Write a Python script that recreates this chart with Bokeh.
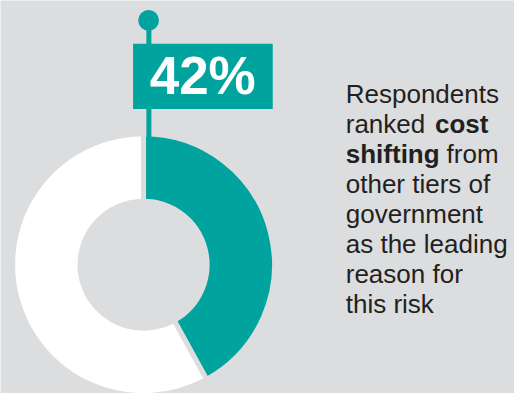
import numpy as np
from bokeh.plotting import figure
from bokeh.models import Range1d
from bokeh.core.properties import value
from bokeh.embed import file_html
from bokeh.resources import INLINE

# ---- data ----
shares = [42, 58]                      # percent: cost shifting vs. rest
share_colors = ["#00A39D", "#FFFFFF"]
highlight_label = f"{shares[0]}%"
text_lines = [
    [("Respondents", "normal")],
    [("ranked", "normal"), ("cost", "bold")],
    [("shifting", "bold"), ("from", "normal")],
    [("other tiers of", "normal")],
    [("government", "normal")],
    [("as the leading", "normal")],
    [("reason for", "normal")],
    [("this risk", "normal")],
]

BG = "#DCDDDF"
TEAL = "#00A39D"
TXT = "#231F20"
W, H = 530, 409  # reference frame; data y = H - pixel_y

p = figure(width=514, height=393, x_range=Range1d(0, W), y_range=Range1d(0, H),
           output_backend="svg", toolbar_location=None, min_border=0,
           background_fill_color=BG, border_fill_color=BG, outline_line_color=None)
p.axis.visible = False
p.grid.visible = False

# donut
cx, cy = 147.5, H - 275
fr = np.array(shares, dtype=float) / sum(shares)
cum = np.concatenate([[0], np.cumsum(fr)])
starts = np.pi / 2 - 2 * np.pi * cum[:-1]
ends = np.pi / 2 - 2 * np.pi * cum[1:]
p.annular_wedge(x=cx, y=cy, inner_radius=65.5, outer_radius=135,
                start_angle=starts, end_angle=ends, direction="clock",
                fill_color=share_colors, line_color=BG, line_width=5)

# flag stem and knob
sx = 153
p.segment(x0=[sx], y0=[H - 20], x1=[sx], y1=[H - 146], line_color=TEAL, line_width=5)
p.circle(x=[152.7], y=[H - 20.7], radius=10.7, fill_color=TEAL, line_color=None)

# label box
p.quad(left=[136.7], right=[280.7], top=[H - 45], bottom=[H - 113],
       fill_color=TEAL, line_color=None)
big = 53.0
p.text(x=[208.5], y=[H - (97.0 - 0.35 * big / 0.965)], text=[highlight_label],
       text_align="center", text_baseline="middle", text_font=value("Liberation Sans"),
       text_font_style="bold", text_font_size=f"{big}px", text_color="white")

# right-hand text
seg_x = {(1, 1): 448.0, (2, 1): 460.0}
x0 = 356
base0, step = 106.5, 31.3
fs = 26.0
for i, line in enumerate(text_lines):
    yb = H - (base0 + i * step - 0.35 * fs / 0.965)
    for j, (s, style) in enumerate(line):
        xs = x0 if j == 0 else seg_x[(i, j)]
        p.text(x=[xs], y=[yb], text=[s], text_align="left",
               text_baseline="middle", text_font=value("Liberation Sans"),
               text_font_style=style, text_font_size=f"{fs}px", text_color=TXT)

open("out.html", "w").write(file_html(p, INLINE))
